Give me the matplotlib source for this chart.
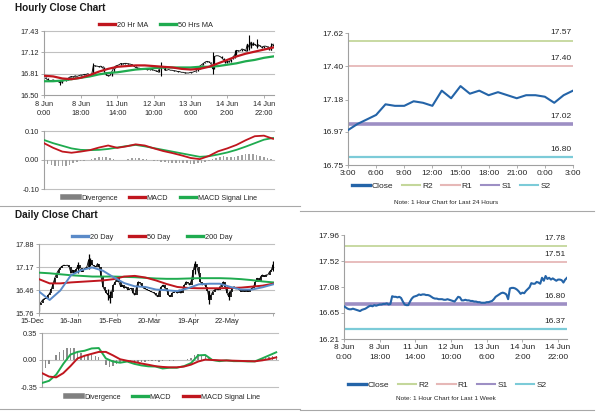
import matplotlib
matplotlib.use('Agg')
import matplotlib.pyplot as plt
from matplotlib.lines import Line2D
from matplotlib.transforms import ScaledTranslation, blended_transform_factory
import numpy as np

plt.rcParams['font.family'] = ['Liberation Sans', 'DejaVu Sans']

W, H = 600, 413

# ---- hourly data (8 Jun 0:00 .. 15 Jun 3:00, one value per bar) ----
last24_labels = ['3:00', '6:00', '9:00', '12:00', '15:00', '18:00', '21:00', '0:00', '3:00']
last24_close = [16.98, 17.02, 17.05, 17.08, 17.15, 17.14, 17.14, 17.17, 17.16, 17.14,
                17.24, 17.19, 17.27, 17.22, 17.24, 17.21, 17.23, 17.21, 17.19, 17.21,
                17.21, 17.20, 17.16, 17.21, 17.24]
week_close = [16.76, 16.74, 16.72, 16.71, 16.71, 16.72, 16.71, 16.70, 16.69, 16.68,
              16.70, 16.71, 16.72, 16.74, 16.76, 16.77, 16.76, 16.78, 16.77, 16.78,
              16.79, 16.79, 16.80, 16.80, 16.81, 16.79, 16.80, 16.93, 16.92, 16.92,
              16.91, 16.92, 16.90, 16.84, 16.79, 16.78, 16.78, 16.84, 16.89, 16.92,
              16.93, 16.94, 16.96, 16.95, 16.96, 16.96, 16.95, 16.95, 16.94, 16.92,
              16.90, 16.89, 16.89, 16.88, 16.88, 16.88, 16.87, 16.87, 16.88, 16.87,
              16.86, 16.85, 16.84, 16.88, 16.92, 16.91, 16.86, 16.86, 16.87, 16.86,
              16.86, 16.85, 16.85, 16.84, 16.84, 16.83, 16.83, 16.82, 16.82, 16.82,
              16.83, 16.83, 16.84, 16.85, 16.88, 16.92, 16.94, 16.96, 16.98, 16.99,
              16.98, 16.96, 16.88, 17.06, 17.07, 17.07, 17.06, 17.04, 17.01, 16.97,
              16.99]
hourly_close = week_close + last24_close
hourly_ticks = [0, 20, 40, 60, 80, 100, 120]
hourly_labels = ['8 Jun\n0:00', '8 Jun\n18:00', '11 Jun\n14:00', '12 Jun\n10:00',
                 '13 Jun\n6:00', '14 Jun\n2:00', '14 Jun\n22:00']
# wicks: bar, low, high
hourly_wicks = [(9, 16.64, 16.72), (27, 16.80, 16.97), (64, 16.78, 16.98),
                (92, 16.80, 17.13), (104, 17.04, 17.16), (112, 17.15, 17.37),
                (116, 17.18, 17.31), (124, 17.15, 17.26)]

hma_bars = list(range(0, 126, 5))
hma20 = [16.78, 16.77, 16.74, 16.73, 16.75, 16.79, 16.84, 16.88, 16.91, 16.92, 16.93, 16.93, 16.92,
         16.91, 16.90, 16.88, 16.87, 16.88, 16.91, 16.96, 17.01, 17.06, 17.10, 17.13, 17.16, 17.19]
hma50 = [16.70, 16.70, 16.71, 16.73, 16.75, 16.77, 16.80, 16.82, 16.83, 16.85, 16.87, 16.88, 16.89,
         16.90, 16.90, 16.90, 16.90, 16.91, 16.91, 16.92, 16.94, 16.96, 16.99, 17.01, 17.04, 17.06]
hmacd = [0.058, 0.042, 0.029, 0.025, 0.029, 0.034, 0.043, 0.050, 0.042, 0.047, 0.054, 0.050, 0.040,
         0.031, 0.024, 0.016, 0.007, 0.003, 0.014, 0.030, 0.040, 0.052, 0.068, 0.082, 0.084, 0.073]
hsignal = [0.069, 0.058, 0.049, 0.040, 0.035, 0.034, 0.035, 0.038, 0.043, 0.048, 0.052, 0.047, 0.041,
           0.035, 0.029, 0.023, 0.017, 0.011, 0.013, 0.019, 0.026, 0.035, 0.046, 0.058, 0.070, 0.076]
hdiv_bars = list(range(0, 126, 2))
hdiv = [-0.012, -0.015, -0.017, -0.019, -0.020, -0.020, -0.019, -0.017, -0.012,
        -0.007, -0.004, -0.002, 0.000, 0.003,
        0.006, 0.009, 0.011, 0.010, 0.007, 0.004,
        0.001, -0.001, 0.000,
        0.003, 0.006, 0.007, 0.006, 0.004, 0.002,
        0.000, -0.002, -0.004,
        -0.006, -0.008, -0.009, -0.010, -0.011, -0.011, -0.012, -0.012, -0.013, -0.013,
        -0.012, -0.010, -0.007, -0.004,
        0.003, 0.008, 0.012, 0.013, 0.011, 0.009, 0.012, 0.015, 0.017, 0.019, 0.021,
        0.020, 0.018, 0.015, 0.012, 0.008, 0.005]

# ---- daily data (15 Dec .. mid Jun) ----
daily_close = [16.01, 16.08, 16.16, 16.20, 16.21, 16.30, 16.37, 16.50, 16.67, 16.85,
               16.98, 17.08, 17.15, 17.20, 17.23, 17.22, 17.23, 17.18, 16.98, 17.08,
               16.98, 17.10, 17.23, 17.13, 17.03, 17.10, 17.13, 17.18, 17.40, 17.39,
               17.25, 17.20, 17.18, 17.28, 17.18, 16.88, 16.57, 16.47, 16.37, 16.31,
               16.21, 16.42, 16.62, 16.72, 16.83, 16.72, 16.57, 16.62, 16.52, 16.57,
               16.47, 16.50, 16.52, 16.37, 16.31, 16.57, 16.72, 16.67, 16.60, 16.52,
               16.50, 16.47, 16.45, 16.42, 16.40, 16.37, 16.30, 16.26, 16.47, 16.57,
               16.62, 16.52, 16.47, 16.31, 16.26, 16.37, 16.40, 16.42, 16.37, 16.47,
               16.37, 16.47, 16.62, 16.72, 16.67, 16.62, 16.78, 17.08, 17.28, 17.18,
               16.98, 16.72, 16.62, 16.67, 16.57, 16.45, 16.16, 16.31, 16.42, 16.47,
               16.52, 16.47, 16.57, 16.62, 16.72, 16.57, 16.37, 16.26, 16.42, 16.52,
               16.57, 16.50, 16.52, 16.47, 16.42, 16.47, 16.42, 16.47, 16.42, 16.47,
               16.52, 16.57, 16.72, 16.83, 16.72, 16.88, 16.93, 16.88, 16.93, 16.93,
               17.03, 17.08, 17.25]
daily_ticks = [0, 22, 44, 66, 88, 110, 132]
daily_labels = ['15-Dec', '16-Jan', '15-Feb', '20-Mar', '19-Apr', '22-May', '']
daily_wicks = [(0, 15.82, 16.05), (22, 17.00, 17.32), (28, 17.10, 17.56), (29, 17.20, 17.45),
               (39, 16.15, 16.50), (40, 16.08, 16.45), (88, 16.95, 17.36), (96, 16.05, 16.45),
               (107, 16.15, 16.45), (132, 17.05, 17.36)]

dma_bars = list(range(0, 133, 6))
dma20 = [16.42, 16.16, 16.45, 16.92, 17.08, 17.16, 17.06, 16.86, 16.68, 16.58, 16.56, 16.48,
         16.46, 16.43, 16.52, 16.64, 16.66, 16.66, 16.56, 16.48, 16.48, 16.55, 16.64]
dma50 = [16.80, 16.67, 16.67, 16.70, 16.72, 16.74, 16.76, 16.80, 16.88, 16.90, 16.85, 16.76,
         16.65, 16.56, 16.53, 16.52, 16.52, 16.52, 16.53, 16.54, 16.57, 16.60, 16.66]
dma200 = [17.00, 16.98, 16.95, 16.92, 16.90, 16.88, 16.88, 16.88, 16.87, 16.86, 16.84, 16.82,
          16.81, 16.81, 16.82, 16.83, 16.83, 16.83, 16.82, 16.80, 16.77, 16.73, 16.70]
dmacd_bars = list(range(0, 133, 4))
dmacd = [-0.298, -0.27, -0.19, -0.05, 0.07, 0.105, 0.12, 0.15, 0.155, 0.02, -0.02, -0.035,
         -0.02, -0.05, -0.07, -0.082, -0.085, -0.11, -0.10, -0.10, -0.08, -0.04, 0.06, 0.065,
         0.00, -0.015, -0.005, -0.015, -0.015, -0.018, -0.018, 0.02, 0.06, 0.10]
dsignal = [-0.17, -0.215, -0.225, -0.17, -0.08, 0.02, 0.055, 0.08, 0.105, 0.105, 0.06, 0.01,
           -0.01, -0.025, -0.045, -0.062, -0.08, -0.09, -0.095, -0.095, -0.085, -0.06, -0.02,
           0.005, 0.0, -0.004, -0.006, -0.009, -0.012, -0.015, -0.017, -0.005, 0.012, 0.034]
ddiv_bars = list(range(0, 133, 2))
ddiv = [-0.13, -0.10, -0.05, 0.00, 0.06, 0.10, 0.13, 0.15, 0.16, 0.15, 0.12, 0.09, 0.07, 0.06,
        0.06, 0.05, 0.04, 0.00, -0.06, -0.09, -0.08, -0.05, -0.04, -0.03, -0.02, -0.02, -0.02,
        -0.02, -0.02, -0.02, -0.01, -0.01, -0.01, -0.02, -0.01, 0.00, -0.01, -0.01, 0.00, 0.00,
        0.00, 0.01, 0.03, 0.06, 0.08, 0.07, 0.05, 0.02, 0.00, -0.01, -0.01, 0.00, 0.00, -0.01,
        0.00, 0.00, -0.01, 0.00, 0.00, 0.00, 0.00, 0.01, 0.02, 0.03, 0.04, 0.05, 0.05]

# pivot levels
levels_24h = {'R2': 17.57, 'R1': 17.40, 'S1': 17.02, 'S2': 16.80}
levels_week = {'R2': 17.78, 'R1': 17.51, 'S1': 16.80, 'S2': 16.37}

RED = '#c0161e'
GREEN = '#1fab4f'
BLUE = '#5a8ac8'
CLOSE = '#2464a8'
LEVEL_STYLE = {'R2': ('#c4d79b', 1.3), 'R1': ('#e6b8b7', 1.3),
               'S1': ('#9d8fc4', 2.6), 'S2': ('#7ccbd8', 1.6)}
GRID = '#c0c0c0'
AXC = '#a0a0a0'
TXT = '#262626'

fig = plt.figure(figsize=(6, 4.13), dpi=100)


def panel(x0, y0, x1, y1, fs):
    ax = fig.add_axes([x0 / W, 1 - y1 / H, (x1 - x0) / W, (y1 - y0) / H])
    for s in ['top', 'right']:
        ax.spines[s].set_visible(False)
    for s in ['left', 'bottom']:
        ax.spines[s].set_color(AXC)
        ax.spines[s].set_linewidth(0.8)
    ax.tick_params(colors=AXC, labelcolor=TXT, labelsize=fs, length=2, width=0.6, pad=1.5)
    return ax


def grid_lines(ax, ticks):
    for v in ticks:
        ax.axhline(v, color=GRID, lw=0.8, zorder=0, clip_on=False)


def legend(handles, labels, cx, cy, fs, cs=1.6):
    fig.legend(handles, labels, loc='center', bbox_to_anchor=(cx / W, 1 - cy / H),
               ncol=len(labels), frameon=False, fontsize=fs, handlelength=2.2,
               handletextpad=0.25, columnspacing=cs, borderpad=0, labelcolor=TXT)


def line(c, lw=2.4):
    return Line2D([], [], color=c, lw=lw)


# titles and separators
fig.text(15 / W, 1 - 8 / H, 'Hourly Close Chart', fontsize=7.2, weight='bold', va='center', color='#1a1a1a')
fig.text(15 / W, 1 - 215 / H, 'Daily Close Chart', fontsize=7.2, weight='bold', va='center', color='#1a1a1a')
for (xa, xb, yy) in [(0, 300, 206), (300, 594, 211), (0, 300, 409), (300, 594, 410)]:
    fig.add_artist(Line2D([xa / W, xb / W], [1 - yy / H, 1 - yy / H], color='#a8a8a8', lw=0.8))

# ---- hourly price ----
hx = np.arange(len(hourly_close))
hc = np.array(hourly_close)
ax = panel(44, 31, 274, 95, 5.3)
ax.set_xlim(0, 125.5)
ax.set_ylim(16.50, 17.43)
yt = [16.50, 16.81, 17.12, 17.43]
ax.set_yticks(yt)
ax.set_yticklabels(['%.2f' % v for v in yt])
grid_lines(ax, yt[1:])
ax.set_xticks(hourly_ticks)
ax.set_xticklabels(hourly_labels, linespacing=1.3)
ax.tick_params(axis='x', pad=2.5)
ax.plot(hx, hc, color='black', lw=0.6, zorder=2)
ax.vlines(hx[1:], np.minimum(hc[:-1], hc[1:]), np.maximum(hc[:-1], hc[1:]), color='black', lw=0.9, zorder=2)
ax.vlines([w[0] for w in hourly_wicks], [w[1] for w in hourly_wicks], [w[2] for w in hourly_wicks],
          color='black', lw=0.8, zorder=2)
ax.plot(hma_bars, hma50, color=GREEN, lw=1.6, zorder=3)
ax.plot(hma_bars, hma20, color=RED, lw=1.6, zorder=3)
legend([line(RED), line(GREEN)], ['20 Hr MA', '50 Hrs MA'], 156, 25, 5.3)

# ---- hourly MACD ----
ax = panel(44, 131, 274, 189, 5.3)
ax.set_xlim(0, 125.5)
ax.set_ylim(-0.10, 0.10)
yt = [-0.10, 0.00, 0.10]
ax.set_yticks(yt)
ax.set_yticklabels(['%.2f' % v for v in yt])
ax.spines['bottom'].set_visible(False)
ax.set_xticks([])
grid_lines(ax, yt)
ax.bar(hdiv_bars, hdiv, width=0.9, color='#a0a0a0', zorder=1)
ax.plot(hma_bars, hsignal, color=GREEN, lw=1.3, zorder=3)
ax.plot(hma_bars, hmacd, color=RED, lw=1.3, zorder=3)
legend([line('#808080', 4), line(RED), line(GREEN)], ['Divergence', 'MACD', 'MACD Signal Line'], 160, 198, 5.2)

# ---- daily price ----
dx = np.arange(len(daily_close))
dc = np.array(daily_close)
ax = panel(39, 244, 274, 313, 5.3)
ax.set_xlim(0, 132.5)
ax.set_ylim(15.76, 17.88)
yt = [15.76, 16.46, 17.17, 17.88]
ax.set_yticks(yt)
ax.set_yticklabels(['%.2f' % v for v in yt])
grid_lines(ax, yt[1:])
ax.set_xticks(daily_ticks)
ax.set_xticklabels(daily_labels)
for lbl in ax.get_xticklabels():
    lbl.set_transform(lbl.get_transform() + ScaledTranslation(-5 / 72, 0, fig.dpi_scale_trans))
ax.plot(dx, dc, color='black', lw=0.6, zorder=2)
ax.vlines(dx[1:], np.minimum(dc[:-1], dc[1:]), np.maximum(dc[:-1], dc[1:]), color='black', lw=1.2, zorder=2)
ax.vlines([w[0] for w in daily_wicks], [w[1] for w in daily_wicks], [w[2] for w in daily_wicks],
          color='black', lw=0.9, zorder=2)
ax.plot(dma_bars, dma200, color=GREEN, lw=1.4, zorder=3)
ax.plot(dma_bars, dma50, color=RED, lw=1.4, zorder=3)
ax.plot(dma_bars, dma20, color=BLUE, lw=1.4, zorder=3)
legend([line(BLUE), line(RED), line(GREEN)], ['20 Day', '50 Day', '200 Day'], 152, 237, 5.3, cs=2.2)

# ---- daily MACD ----
ax = panel(42, 333, 278, 387, 5.3)
ax.set_xlim(0, 133)
ax.set_ylim(-0.35, 0.35)
yt = [-0.35, 0.00, 0.35]
ax.set_yticks(yt)
ax.set_yticklabels(['%.2f' % v for v in yt])
ax.spines['bottom'].set_visible(False)
ax.set_xticks([])
grid_lines(ax, yt)
ax.bar(ddiv_bars, ddiv, width=0.8, color='#8c8c8c', zorder=1)
ax.plot(dmacd_bars, dmacd, color=GREEN, lw=1.4, zorder=3)
ax.plot(dmacd_bars, dsignal, color=RED, lw=1.4, zorder=3)
legend([line('#808080', 4), line(GREEN), line(RED)], ['Divergence', 'MACD', 'MACD Signal Line'], 163, 397, 5.2)


def level_chart(ax, xs, ys, levels, fs):
    tr = blended_transform_factory(ax.transAxes, ax.transData)
    for name, val in levels.items():
        c, lw = LEVEL_STYLE[name]
        ax.axhline(val, color=c, lw=lw, zorder=1)
        ax.annotate('%.2f' % val, xy=(1.0, val), xycoords=tr, xytext=(-1, 3),
                    textcoords='offset points', ha='right', va='bottom', fontsize=fs, color=TXT)
    ax.plot(xs, ys, color=CLOSE, lw=1.5, zorder=3)


# ---- last 24 hours ----
ax = panel(348, 33, 573, 165, 6.0)
ax.set_xlim(0, 24)
ax.set_ylim(16.75, 17.62)
yt = [16.75, 16.97, 17.18, 17.40, 17.62]
ax.set_yticks(yt)
ax.set_yticklabels(['%.2f' % v for v in yt])
ax.set_xticks(range(0, 25, 3))
ax.set_xticklabels(last24_labels)
level_chart(ax, range(len(last24_close)), last24_close, levels_24h, 6.0)
lh = [line(CLOSE)] + [line(LEVEL_STYLE[k][0], 1.5) for k in ['R2', 'R1', 'S1', 'S2']]
legend(lh, ['Close', 'R2', 'R1', 'S1', 'S2'], 451, 186, 6.0, cs=1.0)
fig.text(446 / W, 1 - 203 / H, 'Note: 1 Hour Chart for Last 24 Hours', fontsize=4.6, ha='center', va='center', color=TXT)

# ---- last week ----
ax = panel(344, 235, 567, 339, 6.0)
ax.set_xlim(0, 125)
ax.set_ylim(16.21, 17.96)
yt = [16.21, 16.65, 17.08, 17.52, 17.96]
ax.set_yticks(yt)
ax.set_yticklabels(['%.2f' % v for v in yt])
ax.set_xticks(hourly_ticks)
ax.set_xticklabels(hourly_labels, linespacing=1.6)
level_chart(ax, hx, hc, levels_week, 6.0)
legend(lh, ['Close', 'R2', 'R1', 'S1', 'S2'], 447, 385, 6.0, cs=1.0)
fig.text(446 / W, 1 - 399 / H, 'Note: 1 Hour Chart for Last 1 Week', fontsize=4.6, ha='center', va='center', color=TXT)

fig.savefig('out.png', dpi=100)
